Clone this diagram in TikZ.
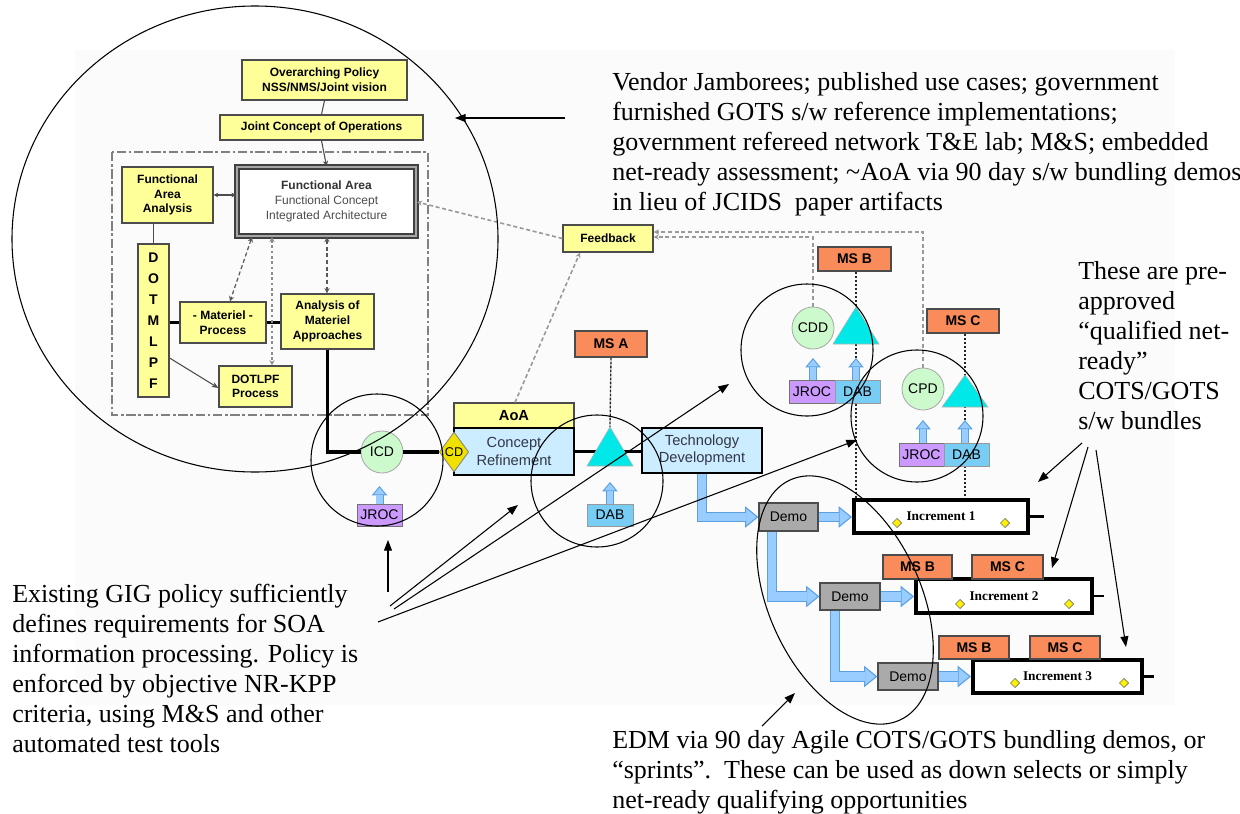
\documentclass[tikz,border=0pt]{standalone}
\usepackage{fontspec}
\setmainfont{Liberation Serif}
\newfontfamily\arial{Liberation Sans}
\usetikzlibrary{arrows.meta,shapes.geometric,calc}
\pgfdeclarelayer{bg}
\pgfsetlayers{bg,main}
\definecolor{yel}{RGB}{255,255,153}
\definecolor{org}{RGB}{249,140,90}
\definecolor{lbl}{RGB}{204,236,255}
\definecolor{cyn}{RGB}{0,232,232}
\definecolor{grn}{RGB}{204,250,204}
\definecolor{pur}{RGB}{204,153,255}
\definecolor{dabc}{RGB}{120,205,245}
\definecolor{afill}{RGB}{153,204,255}
\definecolor{abd}{RGB}{90,160,225}
\definecolor{dgr}{RGB}{170,170,170}
\definecolor{dtxt}{RGB}{50,55,70}
\definecolor{cdy}{RGB}{240,225,0}
\tikzset{
 ybox/.style={draw=black!70, fill=yel, line width=0.9pt, align=center, inner sep=0pt, font=\arial\bfseries\fontsize{9}{11}\selectfont},
 fabox/.style={draw=black!75, double=black!35, double distance=1.6pt, line width=1.3pt, fill=white, align=center, inner sep=0pt, font=\arial\fontsize{9}{11.5}\selectfont, text=black!70},
 obox/.style={draw=black!70, fill=org, line width=0.9pt, inner sep=0pt, font=\arial\bfseries\fontsize{10.5}{12}\selectfont},
 bbox/.style={draw=black, fill=lbl, line width=1.8pt, align=center, inner sep=0pt, font=\arial\fontsize{11}{13}\selectfont, text=dtxt},
 jbox/.style={draw=black!55, fill=pur, line width=0.7pt, inner sep=0pt, font=\arial\fontsize{10.5}{12}\selectfont},
 dbox/.style={draw=black!40, fill=dabc, line width=0.7pt, inner sep=0pt, font=\arial\fontsize{10.5}{12}\selectfont},
 demobox/.style={draw=black!70, fill=dgr, line width=0.9pt, inner sep=0pt, font=\arial\fontsize{10.5}{12}\selectfont},
 incbox/.style={draw=black, fill=white, line width=3pt, inner sep=0pt, font=\bfseries\fontsize{10}{12}\selectfont},
 circ/.style={circle, draw=black!35, fill=grn, line width=0.6pt, inner sep=0pt, minimum size=31.5pt, font=\arial\fontsize{10.5}{12}\selectfont},
 tri/.style={draw=black!30, fill=cyn, line width=0.4pt},
 sdia/.style={diamond, draw=black!55, fill=yellow, line width=0.5pt, inner sep=0pt, minimum size=7pt},
 note/.style={draw=black, line width=0.8pt},
 ann/.style={draw=black, line width=0.8pt, -{Triangle[length=8pt,width=6pt]}},
 thk/.style={draw=black, line width=2.4pt},
 cn/.style={draw=black!70, line width=0.8pt},
 msl/.style={draw=black!85, line width=1pt, dash pattern=on 2pt off 1pt},
 fbl/.style={draw=black!40, line width=1.2pt, dash pattern=on 3pt off 2pt},
 dda/.style={draw=black!65, line width=0.9pt, dash pattern=on 3pt off 2pt, {Stealth[length=4pt,width=4pt]}-{Stealth[length=4pt,width=4pt]}},
 ddb/.style={draw=black!45, line width=0.8pt, dash pattern=on 2pt off 2pt, {Stealth[length=4pt,width=4pt]}-{Stealth[length=4pt,width=4pt]}},
 dashbox/.style={draw=black!50, line width=0.9pt, dash pattern=on 7pt off 2pt on 2pt off 2pt},
 fatBh/.style={draw=abd, line width=0.7pt, -{Triangle[length=7pt,width=11.5pt,fill=afill]}},
 fatB/.style={draw=abd, double=afill, double distance=4.6pt, line width=0.7pt, shorten >=6.6pt},
 fatAh/.style={draw=abd, line width=0.8pt, -{Triangle[length=10pt,width=16pt,fill=afill]}},
 fatA/.style={draw=abd, double=afill, double distance=6.4pt, line width=0.8pt, shorten >=9.6pt},
 txt/.style={anchor=north west, align=left, inner sep=0pt, font=\fontsize{19.5}{22.5}\selectfont},
}
\newcommand\bx[7]{%
  \pgfmathsetmacro\bxw{(#4-#2)*0.75}%
  \pgfmathsetmacro\bxh{(#5-#3)*0.75}%
  \node[#6, minimum width=\bxw pt, minimum height=\bxh pt] (#1) at ({(#2+#4)/2},{(#3+#5)/2}) {#7};}
\begin{document}
\begin{tikzpicture}[x=0.75pt,y=-0.75pt]
\useasboundingbox (0,0) rectangle (1240,814);
\begin{pgfonlayer}{bg}
\fill[black!1.5] (75,50) rectangle (1175,705);
\end{pgfonlayer}

% ---------- left block ----------
\draw[dashbox] (112,152) rectangle (428,415);
\bx{op}{242}{60}{407}{100}{ybox}{Overarching Policy\\NSS/NMS/Joint vision}
\bx{jco}{220}{115}{423}{140}{ybox}{Joint Concept of Operations}
\bx{faa}{122}{167}{213}{223}{ybox}{Functional\\Area\\Analysis}
\bx{fa}{237}{167}{416}{236}{fabox}{{\bfseries\color{black!80}Functional Area}\\Functional Concept\\Integrated Architecture}
\bx{dot}{138}{244}{169}{397}{ybox,font=\arial\bfseries\fontsize{10.5}{15.75}\selectfont}{D\\O\\T\\M\\L\\P\\F}
\bx{mp}{180}{302}{266}{343}{ybox}{- Materiel -\\Process}
\bx{ama}{281}{294}{374}{349}{ybox}{Analysis of\\Materiel\\Approaches}
\bx{dlpf}{219}{366}{292}{407}{ybox}{DOTLPF\\Process}

\draw[cn] (op.south) -- (jco.north);
\draw[cn,-{Stealth[length=4pt,width=4pt]}] (jco.south) -- (fa.north);
\draw[cn,{Stealth[length=3.5pt,width=3.5pt]}-{Stealth[length=3.5pt,width=3.5pt]}] (faa.east) -- (faa.east -| fa.west);
\draw[cn] (dot.north) -- (dot.north |- faa.south);
\draw[thk] (dot.east |- mp.west) -- (mp.west);
\draw[thk] (mp.east) -- (mp.east -| ama.west);
\draw[cn,-{Stealth[length=5pt,width=4pt]}] (dot.east |- 0,358) -- (dlpf.west |- 0,388);
\draw[dda] (fa.south -| 252,0) -- (mp.north -| 230,0);
\draw[ddb] (fa.south -| 272,0) -- (dlpf.north -| 272,0);
\draw[dda] (fa.south -| 327,0) -- (ama.north -| 327,0);

% ---------- main line ----------
\node[circ] (icd) at (382,452) {ICD};
\bx{jroc1}{357}{504}{402}{526}{jbox}{JROC}
\draw[thk] (ama.south) |- (icd.west);
\bx{aoa}{454}{403}{574}{428}{ybox,font=\arial\bfseries\fontsize{11}{13}\selectfont}{AoA}
\bx{cr}{454}{428}{574}{475}{bbox}{Concept\\Refinement}
\node[diamond, draw=black!50, fill=cdy, line width=0.6pt, minimum width=22pt, minimum height=30pt, inner sep=0pt, font=\arial\fontsize{9.5}{11}\selectfont] (cd) at (454,452) {CD};
\draw[thk] (icd.east) -- (cd.west);
\bx{msa}{575}{331}{647}{357}{obox}{MS A}
\bx{dab1}{587}{504}{633}{526}{dbox}{DAB}
\bx{td}{642}{428}{762}{473}{bbox}{Technology\\Development}
\draw[thk] (cr.east) -- (cr.east -| td.west);
\coordinate (tAtop) at (610,427);
\coordinate (tAbot) at (610,466);
\draw[msl] (msa.south) -- (tAtop);
\draw[tri] (tAtop) -- (633,466) -- (587,466) -- cycle;
\draw[fatBh] (jroc1.north) -- (jroc1.north |- 0,486);
\draw[fatB] (jroc1.north) -- (jroc1.north |- 0,486);
\draw[fatBh] (dab1.north) -- (dab1.north |- 0,482);
\draw[fatB] (dab1.north) -- (dab1.north |- 0,482);

% ---------- increments ----------
\bx{demo1}{759}{503}{818}{531}{demobox}{Demo}
\bx{inc1}{854}{500}{1028}{533}{incbox}{Increment 1}
\bx{demo2}{820}{583}{880}{610}{demobox}{Demo}
\bx{inc2}{916}{579}{1092}{613}{incbox}{Increment 2}
\bx{msb2}{883}{555}{952}{579}{obox}{MS B}
\bx{msc2}{972}{555}{1043}{579}{obox}{MS C}
\bx{demo3}{878}{663}{938}{690}{demobox}{Demo}
\bx{inc3}{973}{660}{1142}{693}{incbox}{Increment 3}
\bx{msb3}{939}{636}{1009}{659}{obox}{MS B}
\bx{msc3}{1030}{636}{1100}{659}{obox}{MS C}
\draw[line width=2pt] (inc1.east) -- ++(14,0);
\draw[line width=2pt] (inc2.east) -- ++(10,0);
\draw[line width=2pt] (inc3.east) -- ++(10,0);
\node[sdia] (d1a) at (897,523) {};
\node[sdia] (d1b) at (1005,523) {};
\node[sdia] (d2a) at (960,604) {};
\node[sdia] (d2b) at (1069,604) {};
\node[sdia] (d3a) at (1015,683) {};
\node[sdia] (d3b) at (1124,683) {};

\draw[fatAh] (td.south) |- (demo1.west);
\draw[fatA] (td.south) |- (demo1.west);
\draw[fatAh] (demo1.east) -- (inc1.west |- demo1.east);
\draw[fatA] (demo1.east) -- (inc1.west |- demo1.east);
\draw[fatAh] (demo1.south -| 772,0) |- (demo2.west);
\draw[fatA] (demo1.south -| 772,0) |- (demo2.west);
\draw[fatAh] (demo2.east) -- (inc2.west |- demo2.east);
\draw[fatA] (demo2.east) -- (inc2.west |- demo2.east);
\draw[fatAh] (demo2.south -| 835,0) |- (demo3.west);
\draw[fatA] (demo2.south -| 835,0) |- (demo3.west);
\draw[fatAh] (demo3.east) -- (inc3.west |- demo3.east);
\draw[fatA] (demo3.east) -- (inc3.west |- demo3.east);

% ---------- MS B / MS C cluster ----------
\bx{msb}{818}{247}{891}{271}{obox}{MS B}
\node[circ] (cdd) at (813,328) {CDD};
\bx{jroc2}{789}{380}{835}{403}{jbox}{JROC}
\bx{dab2}{835}{380}{880}{403}{dbox}{DAB}
\bx{msc}{927}{309}{999}{333}{obox}{MS C}
\node[circ] (cpd) at (923,389) {CPD};
\bx{jroc3}{899}{443}{944}{466}{jbox}{JROC}
\bx{dab3}{944}{443}{989}{466}{dbox}{DAB}
\begin{pgfonlayer}{bg}
\draw[msl] (msb.south -| 856,0) -- (inc1.north -| 856,0);
\draw[msl] (msc.south -| 965,0) -- (inc1.north -| 965,0);
\end{pgfonlayer}
\coordinate (tBtop) at (856,307);
\coordinate (tCtop) at (965,375);
\draw[tri] (tBtop) -- (879,344) -- (833,344) -- cycle;
\draw[tri] (tCtop) -- (988,407) -- (942,407) -- cycle;
\draw[fatBh] (jroc2.north -| 813,0) -- (813,358);
\draw[fatB] (jroc2.north -| 813,0) -- (813,358);
\draw[fatBh] (dab2.north -| 856,0) -- (856,358);
\draw[fatB] (dab2.north -| 856,0) -- (856,358);
\draw[fatBh] (jroc3.north -| 923,0) -- (923,420);
\draw[fatB] (jroc3.north -| 923,0) -- (923,420);
\draw[fatBh] (dab3.north -| 965,0) -- (965,420);
\draw[fatB] (dab3.north -| 965,0) -- (965,420);

% ---------- feedback ----------
\bx{fb}{563}{225}{653}{252}{ybox}{Feedback}
\draw[fbl,-{Stealth[length=4pt,width=4pt]}] (cdd.north) |- (fb.east |- 0,237);
\draw[fbl,-{Stealth[length=4pt,width=4pt]}] (cpd.north) |- (fb.east |- 0,232);
\draw[fbl,-{Stealth[length=4pt,width=4pt]}] (fb.west) -- (fa.east |- 0,202);
\draw[fbl,-{Stealth[length=4pt,width=4pt]}] (aoa.north -| 515,0) -- (fb.south -| 580,0);

% ---------- annotation ellipses ----------
\draw[note] (255,239) ellipse [x radius=182.25pt, y radius=174.75pt];
\draw[note] (377,460) circle [radius=49.5pt];
\draw[note] (597,481) circle [radius=49.5pt];
\draw[note] (807,350) circle [radius=49.5pt];
\draw[note] (917,416) circle [radius=49.5pt];
\draw[note, rotate around={-65.4:(845,600)}] (845,600) ellipse [x radius=99pt, y radius=57pt];

% ---------- texts ----------
\node[txt] (vendor) at (612,72) {Vendor Jamborees; published use cases; government\\furnished GOTS s/w reference implementations;\\government refereed network T\&E lab; M\&S; embedded\\net-ready assessment; \textasciitilde AoA via 90 day s/w bundling demos\\in lieu of JCIDS\ \ paper artifacts};
\node[txt] (these) at (1078,261) {These are pre-\\approved\\“qualified net-\\ready”\\COTS/GOTS\\s/w bundles};
\node[txt] (gig) at (12,584) {Existing GIG policy sufficiently\\defines requirements for SOA\\information processing. Policy is\\enforced by objective NR-KPP\\criteria, using M\&S and other\\automated test tools};
\node[txt] (edm) at (612,730) {EDM via 90 day Agile COTS/GOTS bundling demos, or\\“sprints”.\ \ These can be used as down selects or simply\\net-ready qualifying opportunities};

% ---------- annotation arrows ----------
\coordinate (v1) at (565,118); \coordinate (v2) at (455,118);
\draw[ann] (v1) -- (v2);
\coordinate (g0) at (388,592); \coordinate (g0e) at (388,540);
\coordinate (g1) at (390,606); \coordinate (g1e) at (518,505);
\coordinate (g2) at (394,609); \coordinate (g2e) at (729,384);
\coordinate (g3) at (378,622); \coordinate (g3e) at (857,440);
\draw[ann] (g0) -- (g0e);
\draw[ann] (g1) -- (g1e);
\draw[ann] (g2) -- (g2e);
\draw[ann] (g3) -- (g3e);
\coordinate (e0) at (762,726); \coordinate (e0e) at (795,693);
\draw[ann] (e0) -- (e0e);
\coordinate (t1) at (1082,443); \coordinate (t1e) at (1038,482);
\coordinate (t2) at (1088,447); \coordinate (t2e) at (1052,568);
\coordinate (t3) at (1096,450); \coordinate (t3e) at (1126,647);
\draw[ann] (t1) -- (t1e);
\draw[ann] (t2) -- (t2e);
\draw[ann] (t3) -- (t3e);
\end{tikzpicture}
\end{document}
